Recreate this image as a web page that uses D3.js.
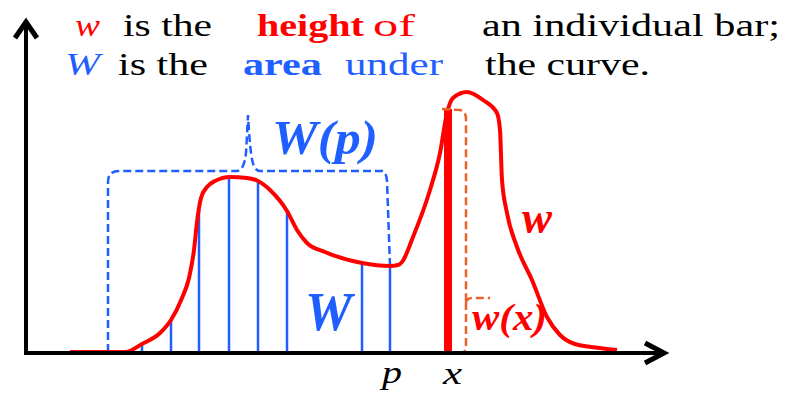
<!DOCTYPE html>
<html>
<head>
	<meta charset="UTF-8">
	<title>w and W</title>
</head>
<body style="margin:0">
	<svg id="container" width="790" height="395"></svg>
<script src="https://cdn.jsdelivr.net/npm/d3@7"></script>
<script>
	// the curve w(x)
	let curveX = [8.6, 19.6, 23, 26.6, 28.8, 31, 32.4, 33.4, 34, 34.8, 36, 37.6, 40.6, 44, 46.2, 48.6, 52, 54, 56, 59.6, 67, 72.6, 74.2, 75,
		77.2, 80.6, 82.6, 84, 85.2, 88, 91.2, 94, 94.6, 95, 96, 98, 101, 104, 106.6, 109.6, 114.6, 118];
	let curveY = [0.2, 0.2, 1.8, 4, 6.6, 11, 15, 20.6, 26.2, 31, 33.2, 34.4, 35.2, 35, 34.4, 32.6, 28.4, 24.6, 22, 20.2, 18, 17.4, 17.6, 18.2,
		23.2, 32.6, 40, 48, 51, 52.2, 50.6, 48, 44.6, 34.6, 28, 21.2, 14.6, 7.2, 3.6, 1.8, 1, 0.6];
	// the thin bars that make up W
	let stripX = [23, 28.8, 34.4, 40.4, 46.2, 52, 67, 72.6];
	let pX = 72.6;       // p
	let barX = 84.2;     // x, the single bar w(x)
	let braceLeft = 16.2, braceY = 36.4, tipX = 44.2, tipY = 47.6, wxTip = 11;

	let red = "#ff0000", blue = "#1f5eff", orange = "#e8622a";

	let svg = d3.select("#container");
	let x = d3.scaleLinear().domain([0, 128]).range([27, 667]);
	let y = d3.scaleLinear().domain([0, 66]).range([353, 23]);

	let points = curveX.map((v, i) => [v, curveY[i]]);
	let line = d3.line().x(d => x(d[0])).y(d => y(d[1])).curve(d3.curveMonotoneX);

	let curve = svg.append("path")
		.attr("d", line(points))
		.attr("fill", "none")
		.attr("stroke", red)
		.attr("stroke-width", 4)
		.attr("stroke-linejoin", "round");

	// where does the curve sit above a given x?
	let node = curve.node();
	let total = node.getTotalLength();
	let samples = d3.range(0, total, 0.5).map(l => node.getPointAtLength(l));
	function topAt(px) {
		let s = samples.find(p => p.x >= px);
		return s ? s.y : y(0);
	}

	// blue strips under the curve
	svg.append("g")
		.selectAll("line")
		.data(stripX)
		.enter()
		.append("line")
		.attr("x1", d => x(d))
		.attr("x2", d => x(d))
		.attr("y1", y(0))
		.attr("y2", d => topAt(x(d)))
		.attr("stroke", blue)
		.attr("stroke-width", 2.5);

	// dashed brace over [start, p]
	let bl = x(braceLeft), br = x(pX), by = y(braceY), tx = x(tipX), ty = y(tipY);
	let b = d3.path();
	b.moveTo(bl, y(0) - 1);
	b.lineTo(bl, by + 11);
	b.quadraticCurveTo(bl, by, bl + 11, by);
	b.lineTo(tx - 11, by);
	b.quadraticCurveTo(tx - 4, by, tx - 2, by - 18);
	b.quadraticCurveTo(tx - 1, by - 35, tx, ty);
	b.quadraticCurveTo(tx + 1, ty + 20, tx + 3, by - 18);
	b.quadraticCurveTo(tx + 5, by, tx + 12, by);
	b.lineTo(br - 8, by);
	b.quadraticCurveTo(br - 4, by, br - 3, by + 10);
	b.lineTo(br, topAt(br));
	svg.append("path")
		.attr("d", b.toString())
		.attr("fill", "none")
		.attr("stroke", blue)
		.attr("stroke-width", 2.5)
		.attr("stroke-dasharray", "8,4");

	curve.raise();

	// the single bar w(x)
	let bx = x(barX), bt = topAt(bx), y0 = y(0), wy = y(wxTip);
	svg.append("line")
		.attr("x1", bx).attr("x2", bx)
		.attr("y1", y0).attr("y2", bt)
		.attr("stroke", red)
		.attr("stroke-width", 8);

	let o = d3.path();
	o.moveTo(bx - 6, bt);
	o.lineTo(bx + 12, bt + 1);
	o.quadraticCurveTo(bx + 18, bt + 2, bx + 18, bt + 10);
	o.lineTo(bx + 18, wy + 6);
	o.quadraticCurveTo(bx + 18, wy, bx + 24, wy);
	o.lineTo(bx + 42, wy);
	o.moveTo(bx + 18, wy + 4);
	o.lineTo(bx + 18, y0 - 5);
	o.quadraticCurveTo(bx + 18, y0, bx + 10, y0);
	o.lineTo(bx - 6, y0 + 1);
	svg.append("path")
		.attr("d", o.toString())
		.attr("fill", "none")
		.attr("stroke", orange)
		.attr("stroke-width", 2.5)
		.attr("stroke-dasharray", "8,4");

	// axes with open arrow heads
	let axes = svg.append("g").attr("stroke", "#000").attr("fill", "none").attr("stroke-linejoin", "miter");
	axes.append("line").attr("x1", x(-0.2)).attr("x2", x(-0.2)).attr("y1", y(-0.4)).attr("y2", y(66.2)).attr("stroke-width", 4);
	axes.append("line").attr("x1", x(-0.4)).attr("x2", x(127.4)).attr("y1", y0).attr("y2", y0).attr("stroke-width", 4);
	axes.append("polyline")
		.attr("points", [[x(-0.2) - 11, y(63)], [x(-0.2), y(66.2)], [x(-0.2) + 11, y(63)]].join(" "))
		.attr("stroke-width", 5);
	axes.append("polyline")
		.attr("points", [[x(123.6), y0 - 10], [x(127.4), y0], [x(123.6), y0 + 10]].join(" "))
		.attr("stroke-width", 5);

	// texts: [string, left, baseline, size, width, colour, weight, style]
	let labels = [
		["w", 75, 36, 32, 25, red, "normal", "italic"],
		["is the", 123, 36, 32, 89, "#000", "normal", "normal"],
		["height", 257, 36, 32, 107, red, "bold", "normal"],
		["of", 373, 36, 32, 42, red, "normal", "normal"],
		["an individual bar;", 482, 36, 32, 298, "#000", "normal", "normal"],
		["W", 65, 75, 32, 35, blue, "normal", "italic"],
		["is the", 118, 75, 32, 90, "#000", "normal", "normal"],
		["area", 243, 75, 32, 79, blue, "bold", "normal"],
		["under", 345, 75, 32, 98, blue, "normal", "normal"],
		["the curve.", 485, 75, 32, 165, "#000", "normal", "normal"],
		["W(p)", 272, 154, 48, 106, blue, "bold", "italic"],
		["W", 305, 330, 54, 47, blue, "bold", "italic"],
		["w", 522, 233, 46, 30, red, "bold", "italic"],
		["w(x)", 472, 330, 38, 75, red, "bold", "italic"],
		["p", x(pX) - 8, 383, 32, 20, "#000", "normal", "italic"],
		["x", bx - 5, 384, 32, 19, "#000", "normal", "italic"]
	];
	// each text is stretched sideways to the width it has in the picture
	let words = svg.append("g")
		.selectAll("g")
		.data(labels)
		.enter()
		.append("g");
	words.append("text")
		.style("font-family", "\"Liberation Serif\"")
		.attr("font-size", d => d[3])
		.attr("fill", d => d[5])
		.attr("font-weight", d => d[6])
		.attr("font-style", d => d[7])
		.text(d => d[0]);
	words.attr("transform", function(d) {
		let w = this.querySelector("text").getComputedTextLength();
		return "translate(" + d[1] + "," + d[2] + ") scale(" + (d[4] / w) + ",1)";
	});
</script>
</body>
</html>
